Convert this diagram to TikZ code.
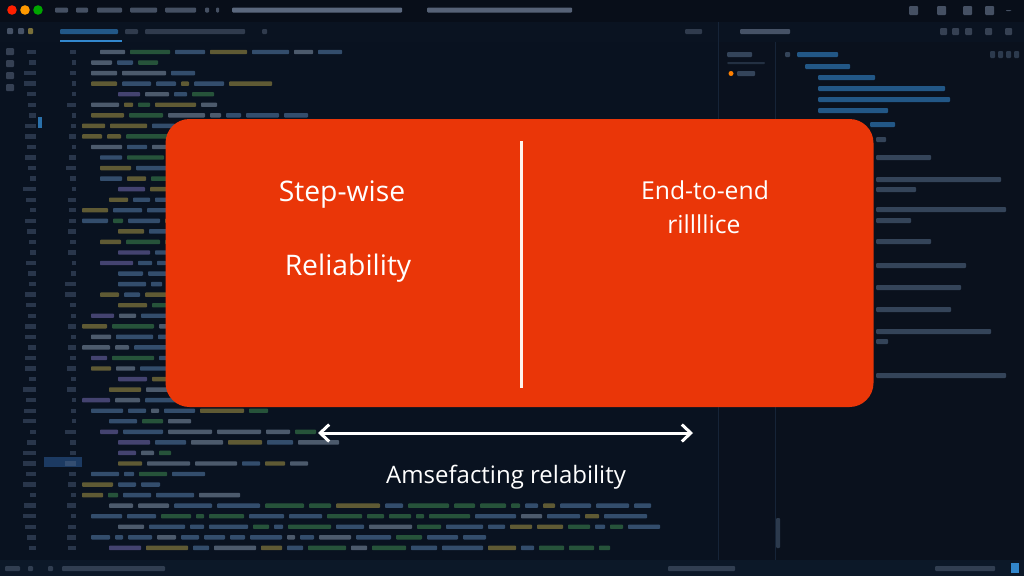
\documentclass[tikz,border=0pt]{standalone}
\usepackage{fontspec}
\setmainfont{Open Sans}
\usetikzlibrary{arrows.meta}
\definecolor{bgc}{RGB}{9,18,32}
\definecolor{titlec}{RGB}{8,14,25}
\definecolor{tabc}{RGB}{10,19,33}
\definecolor{panelc}{RGB}{10,17,29}
\definecolor{statusc}{RGB}{12,24,40}
\definecolor{divc}{RGB}{22,36,56}
\definecolor{orangebox}{RGB}{234,54,8}
\definecolor{divline}{RGB}{255,244,236}
\definecolor{cA}{RGB}{110,160,215}
\definecolor{cB}{RGB}{150,135,225}
\definecolor{cC}{RGB}{80,175,95}
\definecolor{cD}{RGB}{215,190,80}
\definecolor{cE}{RGB}{170,190,215}
\definecolor{gutterc}{RGB}{90,110,140}
\definecolor{menuc}{RGB}{120,135,160}
\definecolor{treeblue}{RGB}{50,135,205}
\definecolor{treegray}{RGB}{95,120,150}
\definecolor{curline}{RGB}{28,58,98}
\tikzset{
  codebar/.style={opacity=.42, rounded corners=0.8pt},
  menubar/.style={fill=menuc, opacity=.55, rounded corners=1pt},
  treebar/.style={fill=treeblue, opacity=.6, rounded corners=1pt},
  graybar/.style={fill=treegray, opacity=.5, rounded corners=1pt},
  panelbox/.style={fill=orangebox, rounded corners=24pt, minimum width=708pt, minimum height=288pt, inner sep=0pt},
  biglbl/.style={text=white, font=\fontsize{28.3}{33}\selectfont, anchor=base, inner sep=0pt},
  midlbl/.style={text=white, font=\fontsize{24.7}{30}\selectfont, anchor=base, inner sep=0pt},
  arrlbl/.style={text=white, font=\fontsize{24}{30}\selectfont, anchor=base, inner sep=0pt},
  dblarrow/.style={white, line width=3pt, {Straight Barb[length=9pt,width=17pt,line width=3pt]}-{Straight Barb[length=9pt,width=17pt,line width=3pt]}},
}
\pgfmathdeclarerandomlist{colsA}{{cB}{cA}{cB}{cE}{cD}}
\pgfmathdeclarerandomlist{colsB}{{cA}{cC}{cE}{cA}{cD}{cC}{cA}}
\begin{document}
\begin{tikzpicture}[x=1pt,y=-1pt]
\useasboundingbox (0,0) rectangle (1024,576);
% ---------- editor background ----------
\fill[bgc] (0,0) rectangle (1024,576);
\fill[titlec] (0,0) rectangle (1024,22);
\fill[tabc] (0,22) rectangle (1024,42);
\fill[panelc] (718,42) rectangle (1024,560);
\fill[panelc!80!bgc] (720,42) rectangle (775,560);
\draw[divc, line width=1pt] (718,22) -- (718,560);
\draw[divc, line width=1pt] (775,42) -- (775,560);
\fill[statusc] (0,560) rectangle (1024,576);
% traffic lights
\fill[red!75!orange] (12,10) circle (4.8pt);
\fill[orange!80!yellow] (25,10) circle (4.8pt);
\fill[green!65!black] (38,10) circle (4.8pt);
% menu
\foreach \a/\b in {55/68,76/88,97/122,130/157,165/196,205/209,216/219}
  \fill[menubar] (\a,7.5) rectangle (\b,12.5);
\fill[menubar, opacity=.75] (232,7.5) rectangle (402,12.5);
\fill[menubar, opacity=.7] (427,7.5) rectangle (572,12.5);
\foreach \a in {909,937,963,985}
  \fill[menubar] (\a,6) rectangle ++(9,9);
\fill[menubar] (1006,10) rectangle (1011,11);
% tab bar
\fill[menubar] (7,28) rectangle (13,34);
\fill[menubar] (18,28) rectangle (24,34);
\fill[menubar, fill=cD] (28,28) rectangle (33,34);
\fill[treebar] (60,29) rectangle (118,34);
\fill[treeblue] (60,40) rectangle (122,41.5);
\fill[menubar, opacity=.35] (125,29) rectangle (138,34);
\fill[menubar, opacity=.35] (145,29) rectangle (245,34);
\fill[menubar, opacity=.35] (262,29) rectangle (267,34);
\fill[menubar, opacity=.35] (685,29) rectangle (702,34);
\fill[menubar] (740,29) rectangle (790,34);
\foreach \a in {940,952,965,985,1005}
  \fill[menubar, opacity=.4] (\a,28) rectangle ++(7,7);
% activity bar icons
\foreach \yy in {48,60,72,84}
  \fill[menubar, opacity=.4] (6,\yy) rectangle ++(8,7);
% highlighted current line and scroll marker
\fill[curline] (44,457) rectangle (82,467);
\fill[treeblue!80!bgc] (38,117) rectangle (42,128);
% code lines
\pgfmathsetseed{42}
\begin{scope}
\clip (78,44) rectangle (716,558);
\foreach \i in {0,...,47}{
  \pgfmathsetmacro{\yy}{52+10.55*\i}
  \pgfmathrandominteger{\ind}{0}{4}
  \pgfmathtruncatemacro{\nmax}{\i>42 ? 17 : (\i>34 ? 5 : 6)}
  \pgfmathtruncatemacro{\nmin}{\i>42 ? 11 : 2}
  \pgfmathrandominteger{\nw}{\nmin}{\nmax}
  \pgfmathsetmacro{\xa}{82+9*\ind}
  \pgfmathrandominteger{\wa}{16}{34}
  \pgfmathrandomitem{\ca}{colsA}
  \fill[codebar, fill=\ca] (\xa,\yy-2.2) rectangle ++(\wa,4.4);
  \pgfmathsetmacro{\nx}{\xa+\wa+5}
  \xdef\curx{\nx}
  \foreach \k in {1,...,\nw}{
    \pgfmathrandominteger{\ww}{8}{44}
    \pgfmathrandomitem{\cc}{colsB}
    \fill[codebar, fill=\cc] (\curx,\yy-2.2) rectangle ++(\ww,4.4);
    \pgfmathsetmacro{\nx}{\curx+\ww+5}
    \xdef\curx{\nx}
  }
}
\end{scope}
% line numbers
\foreach \i in {0,...,47}{
  \pgfmathsetmacro{\yy}{52+10.55*\i}
  \pgfmathrandominteger{\wn}{6}{13}
  \pgfmathrandominteger{\wm}{4}{11}
  \fill[gutterc, opacity=.4] (36-\wn,\yy-2.2) rectangle ++(\wn,4.4);
  \fill[gutterc, opacity=.4] (76-\wm,\yy-2.2) rectangle ++(\wm,4.4);
}
% right panel contents
\fill[graybar] (727,52) rectangle (752,57);
\fill[graybar, opacity=.3] (727,62) rectangle (765,64);
\fill[orange] (731,73.5) circle (2.5pt);
\fill[graybar] (737,71) rectangle (755,76);
\fill[graybar] (785,52) rectangle (790,57);
\fill[treebar] (797,52) rectangle (838,57);
\foreach \a in {990,998,1006,1014}
  \fill[graybar, opacity=.4] (\a,51) rectangle ++(5,7);
\fill[treebar] (805,64) rectangle (850,69);
\fill[treebar] (818,75) rectangle (875,80);
\fill[treebar] (818,86) rectangle (945,91);
\fill[treebar] (818,97) rectangle (950,102);
\fill[treebar] (818,108) rectangle (888,113);
\fill[treebar] (870,122) rectangle (895,127);
\foreach \yy/\w in {137/10,155/55,177/125,187/40,207/130,218/35,239/55,263/90,285/85,307/75,329/115,339/12,373/130}
  \fill[graybar] (876,\yy) rectangle ++(\w,5);
\fill[graybar, opacity=.4] (776,518) rectangle (780,548);
% status bar
\fill[menubar, opacity=.35] (5,566) rectangle (20,571);
\fill[menubar, opacity=.35] (28,566) rectangle (33,571);
\fill[menubar, opacity=.35] (48,566) rectangle (53,571);
\fill[menubar, opacity=.35] (62,566) rectangle (165,571);
\fill[menubar, opacity=.35] (668,566) rectangle (735,571);
\fill[menubar, opacity=.35] (935,566) rectangle (995,571);
\fill[treeblue] (1011,563) rectangle (1019,573);
% ---------- diagram ----------
\node[panelbox] (panel) at (519.5,263) {};
\coordinate (dtop) at (521,141);
\coordinate (dbot) at (521,388);
\draw[divline, line width=3pt] (dtop) -- (dbot);
\node[biglbl] (step) at (342,201) {Step-wise};
\node[biglbl] (rel) at (348,275) {Reliability};
\node[midlbl] (e2e) at (705,199) {End-to-end};
\node[midlbl] (ril) at (704,233) {rillllice};
\coordinate (al) at (318,433);
\coordinate (ar) at (693,433);
\draw[dblarrow] (al) -- (ar);
\node[arrlbl] (lab) at (506,483) {Amsefacting relability};
\end{tikzpicture}
\end{document}
